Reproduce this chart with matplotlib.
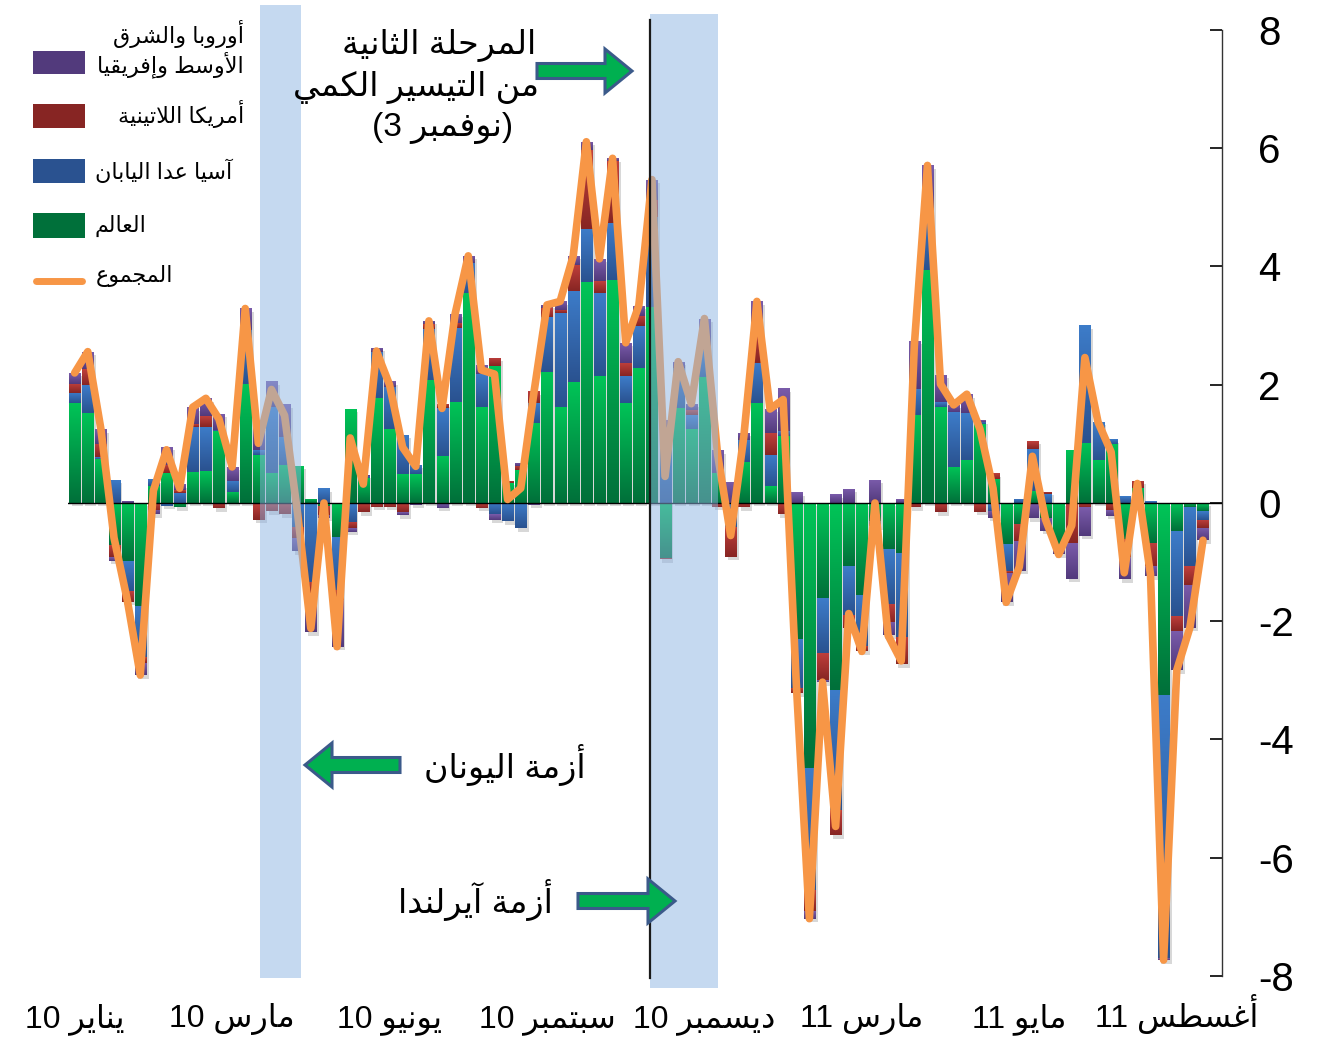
"""Weekly fund flows by region, stacked columns with total line (Arabic labels)."""
import numpy as np
import matplotlib
matplotlib.use('Agg')
import matplotlib.pyplot as plt
import matplotlib.patches as mpatches
from matplotlib import patheffects
from matplotlib.colors import to_rgb

# ---- data (weekly, Jan 2010 - Aug 2011) ----
world = [1.69, 1.53, 0.75, -0.71, -0.98, -1.75, 0.29, 0.50, -0.07, 0.53,
         0.54, 1.21, 0.19, 2.01, 0.81, 0.51, 0.64, 0.63, 0.07, -0.05,
         -0.57, 1.59, 0.42, 1.77, 1.25, 0.49, 0.49, 2.08, 0.80, 1.70,
         3.56, 1.63, 2.31, 0.33, 0.55, 1.36, 2.22, 1.63, 2.04, 3.74,
         2.14, 3.77, 1.69, 2.29, 3.32, -0.93, 1.60, 1.26, 2.13, 0.50,
         0.00, 0.70, 1.69, 0.28, 1.13, -2.30, -4.48, -1.60, -3.16, -1.07,
         -1.56, -0.30, -0.78, -0.85, 1.48, 3.94, 1.63, 0.61, 0.73, 1.33,
         0.41, -0.70, -0.35, 0.20, -0.25, -0.78, 0.90, 1.02, 0.72, 1.00,
         -0.61, 0.25, -0.68, -3.24, -0.47, -0.06, -0.13]
asia = [0.17, 0.47, 0.02, 0.39, -0.51, -0.85, 0.11, -0.05, 0.17, 0.76,
        0.75, 0.03, 0.19, 0.92, 0.08, 1.12, 0.48, -0.40, -1.33, 0.25,
        -0.90, -0.32, 0.04, 0.79, 0.72, 0.66, 0.16, 0.86, 0.80, 1.26,
        0.50, 0.56, -0.19, -0.31, -0.43, 0.33, 0.93, 1.58, 1.54, 0.90,
        1.41, 0.97, 0.45, 0.71, 1.52, 1.29, 0.68, 0.23, 0.45, 0.00,
        -0.40, 0.37, 0.68, 0.53, 0.08, -0.83, -2.06, -0.93, -2.03, -0.82,
        -0.86, -0.05, -0.93, -1.42, 0.44, 1.00, 0.07, 0.93, 0.79, 0.04,
        -0.13, -0.45, 0.07, 0.72, 0.15, 0.00, 0.00, 1.99, 0.65, 0.08,
        0.11, -0.05, 0.03, -4.46, -1.44, -1.01, -0.15]
latam = [0.16, 0.26, 0.23, -0.21, -0.18, -0.11, -0.12, 0.14, 0.05, 0.04,
         0.18, -0.09, 0.00, 0.00, -0.28, -0.14, -0.19, -0.20, -0.20, -0.15,
         -0.17, -0.11, -0.16, -0.06, -0.06, -0.16, 0.00, 0.08, 0.08, 0.09,
         0.00, -0.08, 0.15, 0.04, 0.07, 0.20, 0.14, 0.06, 0.45, 1.33,
         0.20, 1.04, 0.23, 0.17, 0.29, -0.02, 0.00, 0.08, 0.10, -0.06,
         -0.51, -0.07, 0.56, 0.37, -0.19, -0.09, -0.36, -0.47, -0.43, -0.22,
         -0.09, -0.04, -0.31, -0.46, -0.07, 0.05, -0.16, 0.00, 0.00, -0.15,
         0.09, -0.03, -0.29, 0.13, 0.04, 0.00, -0.67, -0.07, 0.00, -0.12,
         -0.30, 0.13, -0.39, 0.00, -0.26, -0.31, -0.14]
emea = [0.18, 0.30, 0.25, -0.06, 0.04, -0.20, -0.07, 0.31, 0.10, 0.29,
        0.30, 0.27, 0.23, 0.36, 0.40, 0.43, 0.55, -0.22, -0.66, -0.05,
        -0.79, -0.06, 0.02, 0.07, 0.09, -0.05, -0.03, 0.06, -0.08, 0.15,
        0.12, 0.14, -0.09, 0.00, 0.06, -0.03, 0.06, 0.14, 0.15, 0.14,
        0.38, 0.05, 0.34, 0.17, 0.34, 0.11, 0.11, 0.11, 0.44, 0.39,
        0.36, 0.12, 0.48, 0.41, 0.73, 0.18, -0.13, -0.03, 0.15, 0.24,
        0.00, 0.39, -0.22, 0.06, 0.82, 0.72, 0.47, 0.12, 0.32, 0.03,
        -0.12, -0.50, -0.51, -0.26, -0.22, -0.09, -0.61, -0.48, 0.00, -0.10,
        -0.38, 0.00, -0.17, -0.03, -0.66, -0.73, -0.21]

tick_weeks = [0, 12, 24, 36, 48, 60, 72, 84]
tick_years = ['10', '10', '10', '10', '10', '11', '11', '11']
tick_months = ['يناير', 'مارس', 'يونيو', 'سبتمبر', 'ديسمبر', 'مارس', 'مايو', 'أغسطس']
y_ticks = [8, 6, 4, 2, 0, -2, -4, -6, -8]
y_labels = ['8', '6', '4', '2', '0', '-2', '-4', '-6', '-8']

qe2_week = 43.85               # 3 Nov 2010
greece_span = (14.1, 17.25)
ireland_span = (43.85, 49.03)

# ---- minimal Arabic shaping (matplotlib has no complex text layout) ----
FORMS = {
    'ا': ('\uFE8D', '\uFE8E', None, None), 'أ': ('\uFE83', '\uFE84', None, None),
    'إ': ('\uFE87', '\uFE88', None, None), 'آ': ('\uFE81', '\uFE82', None, None),
    'ب': ('\uFE8F', '\uFE90', '\uFE91', '\uFE92'), 'ة': ('\uFE93', '\uFE94', None, None),
    'ت': ('\uFE95', '\uFE96', '\uFE97', '\uFE98'), 'ث': ('\uFE99', '\uFE9A', '\uFE9B', '\uFE9C'),
    'ج': ('\uFE9D', '\uFE9E', '\uFE9F', '\uFEA0'), 'ح': ('\uFEA1', '\uFEA2', '\uFEA3', '\uFEA4'),
    'د': ('\uFEA9', '\uFEAA', None, None), 'ر': ('\uFEAD', '\uFEAE', None, None),
    'ز': ('\uFEAF', '\uFEB0', None, None), 'س': ('\uFEB1', '\uFEB2', '\uFEB3', '\uFEB4'),
    'ش': ('\uFEB5', '\uFEB6', '\uFEB7', '\uFEB8'), 'ط': ('\uFEC1', '\uFEC2', '\uFEC3', '\uFEC4'),
    'ع': ('\uFEC9', '\uFECA', '\uFECB', '\uFECC'), 'غ': ('\uFECD', '\uFECE', '\uFECF', '\uFED0'),
    'ف': ('\uFED1', '\uFED2', '\uFED3', '\uFED4'), 'ق': ('\uFED5', '\uFED6', '\uFED7', '\uFED8'),
    'ك': ('\uFED9', '\uFEDA', '\uFEDB', '\uFEDC'), 'ل': ('\uFEDD', '\uFEDE', '\uFEDF', '\uFEE0'),
    'م': ('\uFEE1', '\uFEE2', '\uFEE3', '\uFEE4'), 'ن': ('\uFEE5', '\uFEE6', '\uFEE7', '\uFEE8'),
    'ه': ('\uFEE9', '\uFEEA', '\uFEEB', '\uFEEC'), 'و': ('\uFEED', '\uFEEE', None, None),
    'ي': ('\uFEF1', '\uFEF2', '\uFEF3', '\uFEF4'),
}
LAMALEF = {'آ': ('\uFEF5', '\uFEF6', None, None), 'أ': ('\uFEF7', '\uFEF8', None, None),
           'إ': ('\uFEF9', '\uFEFA', None, None), 'ا': ('\uFEFB', '\uFEFC', None, None)}


def ar(text):
    toks = []
    i = 0
    while i < len(text):
        c = text[i]
        if c == 'ل' and i + 1 < len(text) and text[i + 1] in LAMALEF:
            toks.append(LAMALEF[text[i + 1]])
            i += 2
        else:
            toks.append(FORMS.get(c, (c, None, None, None)))
            i += 1
    out = []
    for k, t in enumerate(toks):
        prev = toks[k - 1] if k > 0 else None
        nxt = toks[k + 1] if k + 1 < len(toks) else None
        jp = prev is not None and prev[2] is not None and t[1] is not None
        jn = nxt is not None and t[2] is not None and nxt[1] is not None
        if jp and jn:
            out.append(t[3])
        elif jp:
            out.append(t[1])
        elif jn:
            out.append(t[2])
        else:
            out.append(t[0])
    return ''.join(out)[::-1]


plt.rcParams['font.family'] = ['Liberation Sans', 'DejaVu Sans']
plt.rcParams['axes.unicode_minus'] = False

W, H = 1319, 1045
fig = plt.figure(figsize=(W / 100, H / 100), dpi=100, facecolor='white')
ax = fig.add_axes([68.1 / W, 1 - 976 / H, (1222 - 68.1) / W, 946 / H])

# (top colour, bottom colour) of each series gradient
series = [
    (world, ('#00C457', '#00703A')),
    (asia, ('#3D7CC9', '#2A5290')),
    (latam, ('#C0403C', '#872523')),
    (emea, ('#7B5CAB', '#523A7C')),
]


def grad_img(top, bottom, n=48):
    t = np.linspace(0, 1, n)[:, None]
    c = (1 - t) * np.array(to_rgb(top)) + t * np.array(to_rgb(bottom))
    return c[:, None, :]


x = np.arange(len(world))
bw = 0.84
vals_all = np.array([s for s, _ in series])
pos_tot = np.clip(vals_all, 0, None).sum(axis=0)
neg_tot = np.clip(vals_all, None, 0).sum(axis=0)

# soft drop shadow behind each column
shadow_fx = [patheffects.SimplePatchShadow(offset=(2.0, -2.5), shadow_rgbFace='#808080', alpha=0.3)]
ax.bar(x, pos_tot, width=bw, color='none', lw=0, zorder=1.5, path_effects=shadow_fx)
ax.bar(x, neg_tot, width=bw, color='none', lw=0, zorder=1.5, path_effects=shadow_fx)

pos_base = np.zeros(len(x))
neg_base = np.zeros(len(x))
for vals, (ctop, cbot) in series:
    v = np.array(vals)
    bottoms = np.where(v >= 0, pos_base, neg_base)
    bars = ax.bar(x, v, bottom=bottoms, width=bw, color=cbot, lw=0, zorder=2)
    img = grad_img(ctop, cbot)
    for p in bars.patches:
        h = p.get_height()
        if abs(h) < 1e-9:
            continue
        lo, hi = sorted([p.get_y(), p.get_y() + h])
        im = ax.imshow(img, extent=(p.get_x(), p.get_x() + p.get_width(), lo, hi),
                       aspect='auto', interpolation='bilinear', origin='upper', zorder=2.1)
        im.set_clip_path(p)
    pos_base += np.clip(v, 0, None)
    neg_base += np.clip(v, None, 0)

total = vals_all.sum(axis=0)
ax.axhline(0, color='black', lw=1.0, zorder=3)
ax.plot(x, total, color='#F79646', lw=5.5, solid_joinstyle='round',
        solid_capstyle='round', zorder=4)

# event shading and QE2 marker (drawn over the bars, like the original)
for (a, b), (y0, y1) in [(greece_span, (978, 5)), (ireland_span, (988, 14))]:
    band = ax.axvspan(a, b, ymin=(976 - y0) / 946, ymax=(976 - y1) / 946,
                      color='#8DB4E2', alpha=0.5, lw=0, zorder=6)
    band.set_clip_on(False)
vl = ax.axvline(qe2_week, ymin=(976 - 978) / 946, ymax=(976 - 20) / 946,
                color='#1a1a1a', lw=1.6, zorder=7)
vl.set_clip_on(False)

ax.set_xlim(-0.5, 87.45)
ax.set_ylim(-8, 8)
for s in ['top', 'left', 'bottom']:
    ax.spines[s].set_visible(False)
ax.spines['right'].set_color('#333333')
ax.spines['right'].set_linewidth(1.0)
ax.yaxis.tick_right()
ax.set_yticks(y_ticks)
ax.set_yticklabels(y_labels)
ax.tick_params(axis='y', direction='in', length=8.5, width=1.2, pad=26,
               labelsize=29, colors='black')
ax.set_xticks(tick_weeks)
ax.set_xticklabels([y + ' ' + ar(m) for y, m in zip(tick_years, tick_months)],
                   fontsize=23)
ax.tick_params(axis='x', length=0, pad=37)
for lbl in ax.get_xticklabels():
    lbl.set_verticalalignment('baseline')

# ---- overlay in pixel coordinates for legend and call-outs ----
ov = fig.add_axes([0, 0, 1, 1])
ov.set_xlim(0, W)
ov.set_ylim(H, 0)
ov.axis('off')

legend_rows = [
    (series[3][1], 51, 74),
    (series[2][1], 104, 128),
    (series[1][1], 159, 183),
    (series[0][1], 213, 238),
]
for (ctop, cbot), y0, y1 in legend_rows:
    r = mpatches.Rectangle((33, y0), 52, y1 - y0, color=cbot, lw=0)
    ov.add_patch(r)
    im = ov.imshow(grad_img(ctop, cbot), extent=(33, 85, y1, y0), aspect='auto',
                   interpolation='bilinear', origin='upper')
    im.set_clip_path(r)
ov.plot([36, 82], [281, 281], color='#F79646', lw=5, solid_capstyle='round')

lfs = 16
ov.text(244, 34, ar('أوروبا والشرق'), fontsize=lfs, ha='right', va='center')
ov.text(244, 65, ar('الأوسط وإفريقيا'), fontsize=lfs, ha='right', va='center')
ov.text(244, 114, ar('أمريكا اللاتينية'), fontsize=lfs, ha='right', va='center')
ov.text(95, 172, ar('آسيا عدا اليابان'), fontsize=lfs, ha='left', va='center')
ov.text(95, 226, ar('العالم'), fontsize=lfs, ha='left', va='center')
ov.text(96, 276, ar('المجموع'), fontsize=lfs, ha='left', va='center')

# DejaVu Sans has no oblique Arabic, so the call-outs stay upright
afs = 24
astyle = dict(fontsize=afs, ha='center', va='center')
ov.text(439, 45, ar('المرحلة الثانية'), **astyle)
ov.text(416, 88, ar('من التيسير الكمي'), **astyle)
ov.text(443, 128, '(3 ' + ar('نوفمبر') + ')', **astyle)
ov.text(505, 765, ar('أزمة اليونان'), **astyle)
ov.text(475, 900, ar('أزمة آيرلندا'), **astyle)

arrow_kw = dict(width=15, head_width=44, head_length=27, length_includes_head=True,
                fc='#00B050', ec='#3B5A8A', lw=2.2)
ov.add_patch(mpatches.FancyArrow(537, 71, 95, 0, **arrow_kw))
ov.add_patch(mpatches.FancyArrow(400, 765, -95, 0, **arrow_kw))
ov.add_patch(mpatches.FancyArrow(578, 901, 97, 0, **arrow_kw))
ov.set_xlim(0, W)
ov.set_ylim(H, 0)

fig.savefig('out.png', dpi=100, facecolor='white')
